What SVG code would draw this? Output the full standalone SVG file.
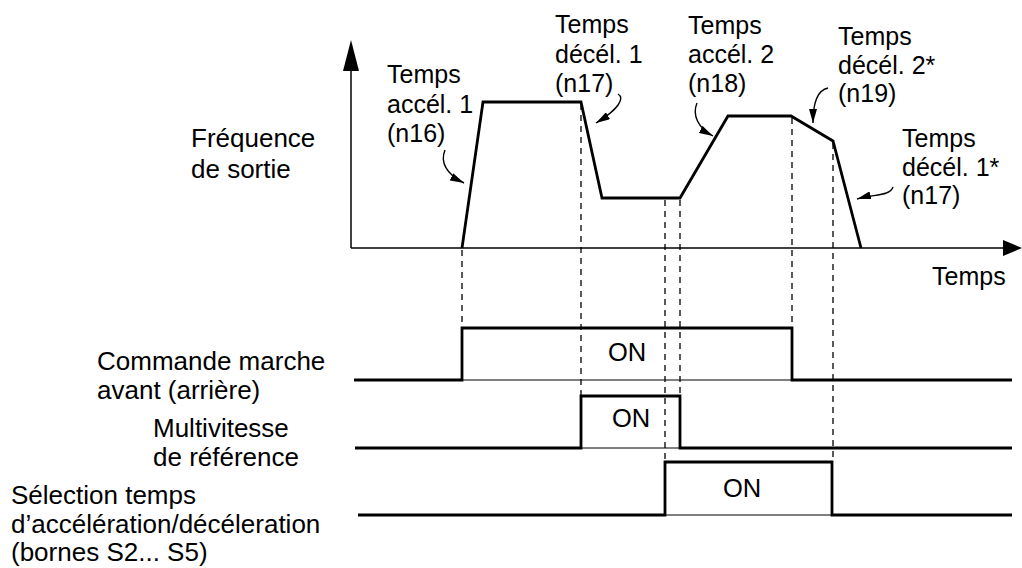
<svg xmlns="http://www.w3.org/2000/svg" width="1022" height="568" viewBox="0 0 1022 568">
<style>
text{font-family:"Liberation Sans",Arial,sans-serif;font-size:25px;fill:#000}
.big{font-size:26px}
.on{text-anchor:middle;font-size:25.5px}
.ax{stroke:#000;stroke-width:1.5;fill:none}
.prof{stroke:#000;stroke-width:2.8;fill:none;stroke-linejoin:miter}
.sig{stroke:#000;stroke-width:2.8;fill:none}
.thin{stroke:#000;stroke-width:1;fill:none}
.dash{stroke:#000;stroke-width:1.3;stroke-dasharray:6 5;fill:none}
.lead{stroke:#000;stroke-width:1.4;fill:none;marker-end:url(#ah)}
</style>
<defs>
<marker id="ah" viewBox="0 0 14 8" refX="14" refY="4" markerWidth="14" markerHeight="8" markerUnits="userSpaceOnUse" orient="auto">
<path d="M0,0 L14,4 L0,8 Z" fill="#000"/>
</marker>
</defs>
<g id="axes">
<line class="ax" x1="351" y1="248" x2="351" y2="68"/>
<polygon points="351,40 343,71 359,71" fill="#000"/>
<line class="ax" x1="351" y1="248" x2="1005" y2="248"/>
<polygon points="1022,248 1003,240 1003,256" fill="#000"/>
<text class="big" x="191" y="147">Fréquence</text>
<text class="big" x="191" y="178">de sortie</text>
<text x="932" y="285">Temps</text>
</g>
<g id="profile">
<polyline class="prof" points="462,248 483,102 581,102 602,198 680,198 728,116 791,116 833,141 861,248"/>
</g>
<g id="connectors">
<line class="dash" x1="462" y1="250" x2="462" y2="327"/>
<line class="dash" x1="581" y1="104" x2="581" y2="396"/>
<line class="dash" x1="665" y1="200" x2="665" y2="462"/>
<line class="dash" x1="680" y1="200" x2="680" y2="396"/>
<line class="dash" x1="792" y1="118" x2="792" y2="328"/>
<line class="dash" x1="833" y1="143" x2="833" y2="462"/>
<path class="lead" d="M445,150 C440,162 446,174 464,183"/>
<path class="lead" d="M618,94 C625,98 619,109 596,123"/>
<path class="lead" d="M697,103 C692,115 698,128 713,136"/>
<path class="lead" d="M828,88 C818,90 813,102 813,123"/>
<path class="lead" d="M893,187 C890,196 875,194 857,199"/>
</g>
<g id="label-n16">
<text x="387" y="83">Temps</text>
<text x="387" y="113">accél. 1</text>
<text x="387" y="142">(n16)</text>
</g>
<g id="label-n17">
<text x="555" y="33">Temps</text>
<text x="555" y="63">décél. 1</text>
<text x="555" y="92">(n17)</text>
</g>
<g id="label-n18">
<text x="688" y="34">Temps</text>
<text x="688" y="63">accél. 2</text>
<text x="688" y="92">(n18)</text>
</g>
<g id="label-n19">
<text x="838" y="45">Temps</text>
<text x="838" y="74">décél. 2*</text>
<text x="838" y="102">(n19)</text>
</g>
<g id="label-n17b">
<text x="902" y="147">Temps</text>
<text x="902" y="176">décél. 1*</text>
<text x="902" y="204">(n17)</text>
</g>
<g id="signal-run">
<text class="big" x="97" y="370">Commande marche</text>
<text class="big" x="97" y="399">avant (arrière)</text>
<polyline class="sig" points="354,380 462,380 462,328 792,328 792,380 1012,380"/>
<line class="thin" x1="462" y1="380" x2="792" y2="380"/>
<text class="on" x="627" y="361">ON</text>
</g>
<g id="signal-multispeed">
<text class="big" x="153" y="437">Multivitesse</text>
<text class="big" x="153" y="466">de référence</text>
<polyline class="sig" points="355,448 581,448 581,396 680,396 680,448 1012,448"/>
<line class="thin" x1="581" y1="448" x2="680" y2="448"/>
<text class="on" x="631" y="427">ON</text>
</g>
<g id="signal-accsel">
<text class="big" x="11" y="504">Sélection temps</text>
<text class="big" x="11" y="533">d’accélération/décéleration</text>
<text class="big" x="11" y="561">(bornes S2... S5)</text>
<polyline class="sig" points="358,515 665,515 665,462 832,462 832,515 1012,515"/>
<line class="thin" x1="665" y1="515" x2="832" y2="515"/>
<text class="on" x="742" y="497">ON</text>
</g>
</svg>
